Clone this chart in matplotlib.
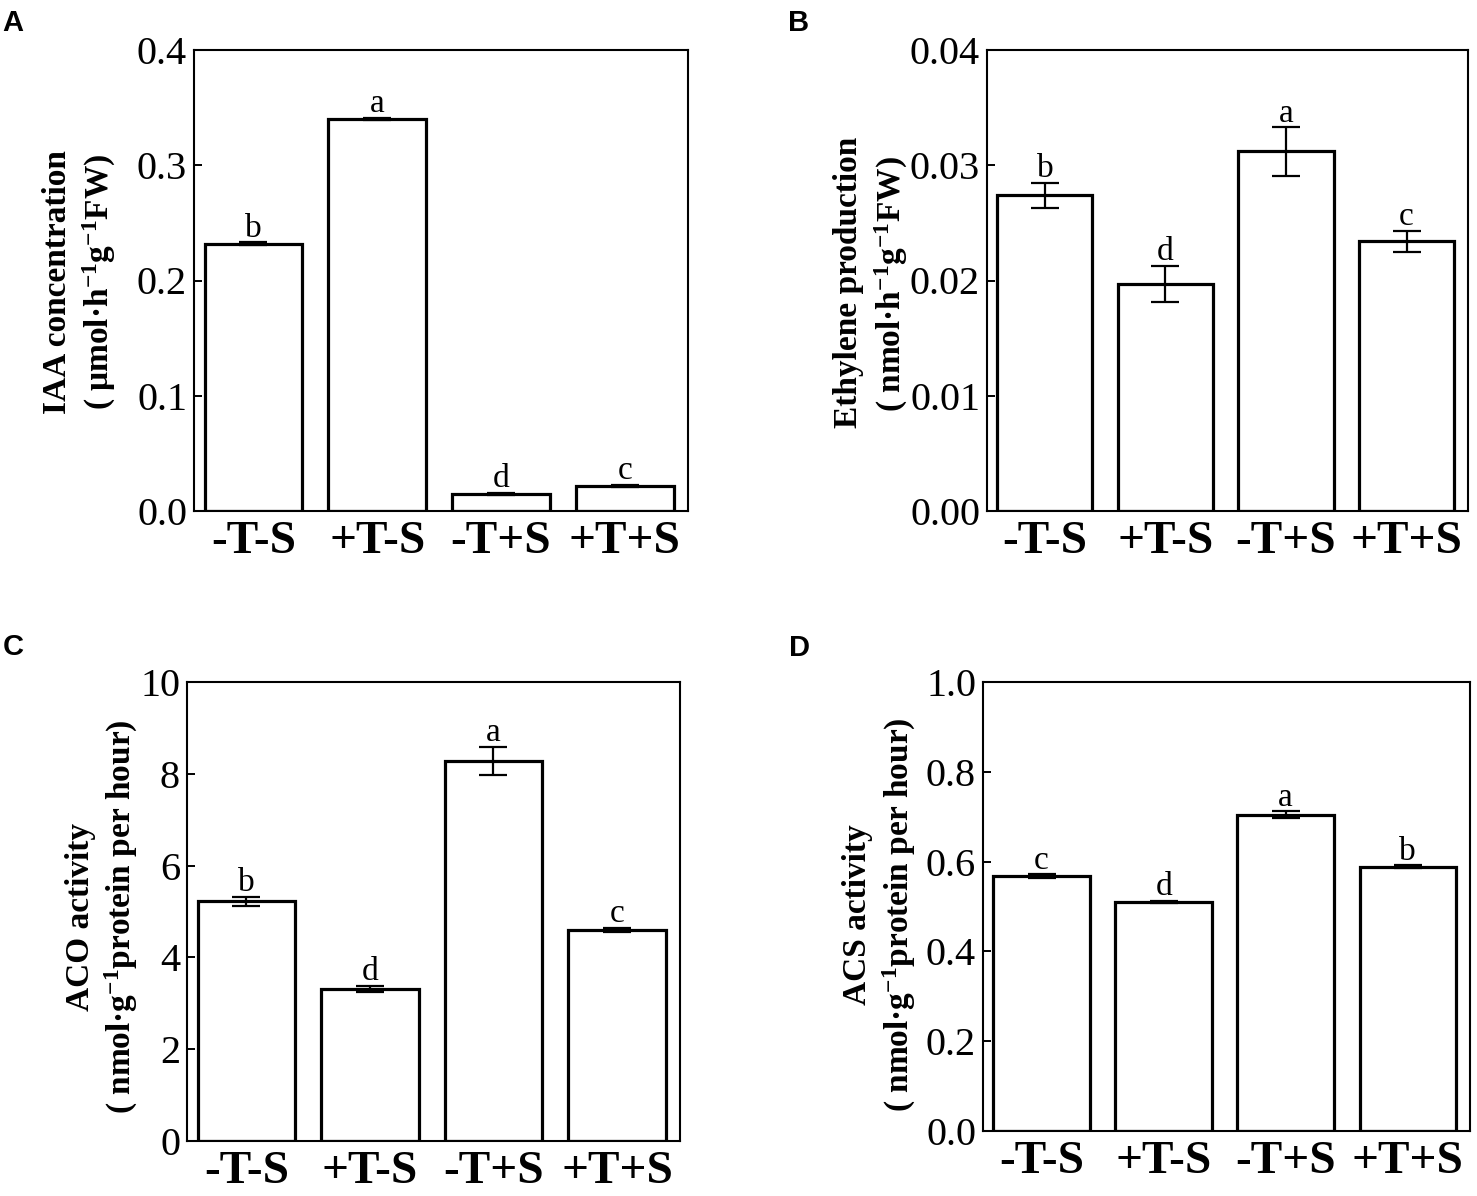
import numpy as np
import matplotlib
matplotlib.use("Agg")
import matplotlib.pyplot as plt

plt.rcParams['font.family'] = ['Liberation Serif', 'DejaVu Serif']
plt.rcParams['mathtext.fontset'] = 'custom'
plt.rcParams['mathtext.rm'] = 'Liberation Serif:bold'
plt.rcParams['mathtext.bf'] = 'Liberation Serif:bold'
plt.rcParams['mathtext.it'] = 'Liberation Serif:bold:italic'

# ---------------------------------------------------------------- data
treatments = ['-T-S', '+T-S', '-T+S', '+T+S']

iaa_mean = [0.232, 0.340, 0.015, 0.022]
iaa_err = [0.001, 0.001, 0.0008, 0.0008]
iaa_letters = ['b', 'a', 'd', 'c']

eth_mean = [0.0274, 0.0197, 0.0312, 0.0234]
eth_err = [0.0011, 0.0016, 0.0021, 0.0009]
eth_letters = ['b', 'd', 'a', 'c']

aco_mean = [5.22, 3.31, 8.28, 4.60]
aco_err = [0.10, 0.07, 0.31, 0.05]
aco_letters = ['b', 'd', 'a', 'c']

acs_mean = [0.568, 0.510, 0.704, 0.589]
acs_err = [0.004, 0.003, 0.008, 0.003]
acs_letters = ['c', 'd', 'a', 'b']

iaa_ticks = [0.0, 0.1, 0.2, 0.3, 0.4]
eth_ticks = [0.00, 0.01, 0.02, 0.03, 0.04]
aco_ticks = [0, 2, 4, 6, 8, 10]
acs_ticks = [0.0, 0.2, 0.4, 0.6, 0.8, 1.0]

W, H = 1477, 1196
fig = plt.figure(figsize=(W / 100, H / 100), dpi=100)


def px_rect(left, top, right, bottom):
    return [left / W, 1 - bottom / H, (right - left) / W, (bottom - top) / H]


def fx(x):
    return x / W


def fy(y):
    return 1 - y / H


#==================================================================================================================

def draw_panel(ax, means, errs, letters, ticks, fmt):
    x = np.arange(len(treatments))
    ax.bar(x, means, width=0.79, color='white', edgecolor='black', linewidth=2.3, zorder=2)
    ax.errorbar(x, means, yerr=errs, fmt='none', ecolor='black', elinewidth=1.6,
                capsize=10, capthick=1.6, zorder=3)
    top = ticks[-1]
    for xi, m, e, lab in zip(x, means, errs, letters):
        ax.annotate(lab, xy=(xi, m + e), xytext=(0, 4), textcoords='offset points',
                    ha='center', va='baseline', fontsize=24)
    ax.set_xlim(-0.48, 3.51)
    ax.set_ylim(0, top)
    ax.set_yticks(ticks)
    ax.set_yticklabels([fmt.format(t) for t in ticks], fontsize=29)
    ax.set_xticks(x)
    ax.set_xticklabels(treatments, fontsize=34, fontweight='bold')
    ax.tick_params(axis='y', direction='in', length=6, width=1.4, pad=5)
    ax.tick_params(axis='x', length=0, pad=7)
    for sp in ax.spines.values():
        sp.set_linewidth(1.5)


axA = fig.add_axes(px_rect(194, 50, 688, 511))
draw_panel(axA, iaa_mean, iaa_err, iaa_letters, iaa_ticks, '{:.1f}')

axB = fig.add_axes(px_rect(987, 50, 1468, 511))
draw_panel(axB, eth_mean, eth_err, eth_letters, eth_ticks, '{:.2f}')

axC = fig.add_axes(px_rect(187, 682, 680, 1141))
draw_panel(axC, aco_mean, aco_err, aco_letters, aco_ticks, '{:d}')

axD = fig.add_axes(px_rect(983, 682, 1470, 1131))
draw_panel(axD, acs_mean, acs_err, acs_letters, acs_ticks, '{:.1f}')

# y labels, two lines each
lab_kw = dict(rotation=90, ha='center', va='center', fontsize=24, fontweight='bold')
fig.text(fx(58), fy(282), 'IAA concentration', **lab_kw)
fig.text(fx(99), fy(282), r'( μmol·h$^{-1}$g$^{-1}$FW)', **lab_kw)
fig.text(fx(849), fy(282), 'Ethylene production', **lab_kw)
fig.text(fx(891), fy(284), r'( nmol·h$^{-1}$g$^{-1}$FW)', **lab_kw)
fig.text(fx(80), fy(917), 'ACO activity', **lab_kw)
fig.text(fx(121), fy(917), r'( nmol·g$^{-1}$protein per hour)', **lab_kw)
fig.text(fx(858), fy(915), 'ACS activity', **lab_kw)
fig.text(fx(899), fy(915), r'( nmol·g$^{-1}$protein per hour)', **lab_kw)

# panel letters
let_kw = dict(fontsize=21, fontweight='bold', family='Liberation Sans', ha='left', va='top')
fig.text(fx(2), fy(9), 'A', **let_kw)
fig.text(fx(788), fy(9), 'B', **let_kw)
fig.text(fx(3), fy(633), 'C', **let_kw)
fig.text(fx(789), fy(634), 'D', **let_kw)

fig.savefig('out.png', dpi=100)
